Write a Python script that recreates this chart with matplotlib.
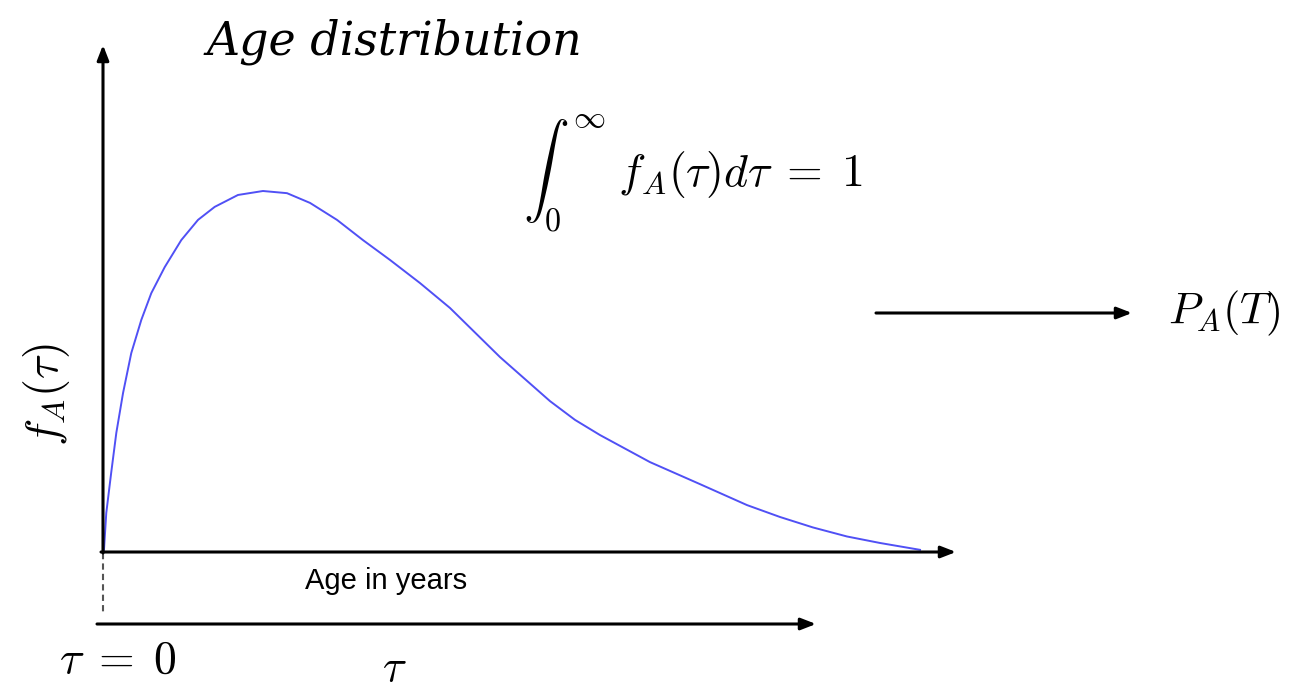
import matplotlib.pyplot as plt

plt.rcParams['mathtext.fontset'] = 'cm'

# curve: age (arbitrary units) vs density
tau = [0, 0.012, 0.04, 0.10, 0.163, 0.245, 0.346, 0.469, 0.591, 0.755, 0.958,
       1.163, 1.367, 1.652, 1.958, 2.252, 2.534, 2.864, 3.182, 3.513, 3.88,
       4.247, 4.859, 5.471, 5.777, 6.083, 6.695, 7.307, 7.882, 8.286, 8.69,
       9.106, 9.51, 10.0]
f_a = [0, 0.006, 0.108, 0.219, 0.33, 0.44, 0.551, 0.643, 0.717, 0.789, 0.864,
       0.92, 0.956, 0.989, 1.0, 0.994, 0.967, 0.92, 0.864, 0.809, 0.745,
       0.676, 0.54, 0.418, 0.366, 0.324, 0.249, 0.188, 0.13, 0.097, 0.068,
       0.043, 0.025, 0.006]

W, H = 1291, 687
X0, Y0 = 103, 552      # origin in pixels
SX, SY = 81.7, 361.0   # pixels per unit


def px(x, y):
    # pixel position (from top-left) -> data coords
    return (x - X0) / SX, (Y0 - y) / SY


fig = plt.figure(figsize=(W / 100, H / 100), dpi=100)
ax = fig.add_axes([0, 0, 1, 1])
ax.set_xlim(px(0, 0)[0], px(W, 0)[0])
ax.set_ylim(px(0, H)[1], px(0, 0)[1])
ax.axis('off')

ax.plot(tau, f_a, color='#5050f5', lw=1.4, zorder=3, solid_joinstyle='round')

arrow = dict(arrowstyle='-|>,head_length=0.9,head_width=0.35', color='black',
             lw=2.2, shrinkA=0, shrinkB=0)
# axes
ax.annotate('', xy=px(103, 45), xytext=px(103, 553), arrowprops=arrow)
ax.annotate('', xy=px(956, 552), xytext=px(101, 552), arrowprops=arrow)
# tau arrow
ax.annotate('', xy=px(816, 624), xytext=px(97, 624), arrowprops=arrow)
# P_A arrow
ax.annotate('', xy=px(1132, 313), xytext=px(876, 313), arrowprops=arrow)

# short dashed tick below origin
ax.plot(*zip(px(103, 553), px(103, 614)), color='#555555', lw=1.5,
        ls=(0, (3, 2)))

ax.text(*px(394, 42), 'Age distribution', fontsize=33, style='italic',
        family='DejaVu Serif', ha='center', va='center')
ax.text(*px(523, 172), r'$\int_0^\infty\,\, f_A(\tau)d\tau \;=\; 1$',
        fontsize=33, ha='left', va='center')
ax.text(*px(1168, 313), r'$P_A(T)$', fontsize=32, ha='left', va='center')
ax.text(*px(47, 395), r'$f_A(\tau)$', fontsize=33, rotation=90,
        ha='center', va='center')
ax.text(*px(386, 581), 'Age in years', fontsize=21, family='Liberation Sans',
        ha='center', va='center')
ax.text(*px(118, 660), r'$\tau \;=\; 0$', fontsize=33, ha='center', va='center')
ax.text(*px(394, 668), r'$\tau$', fontsize=32, ha='center', va='center')

plt.savefig('out.png', dpi=100)
